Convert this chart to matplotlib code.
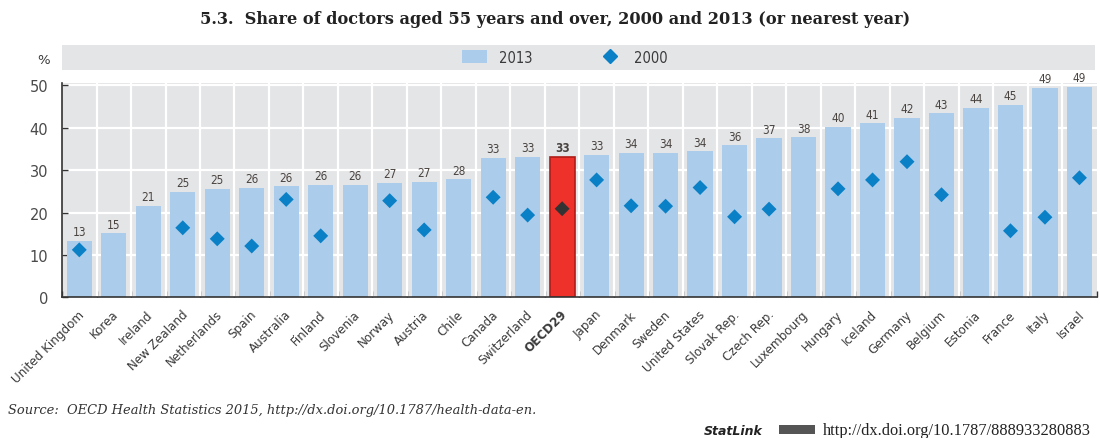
import matplotlib
matplotlib.use("Agg")
import matplotlib.pyplot as plt
from matplotlib.lines import Line2D
from matplotlib.patches import Patch, Rectangle
import numpy as np

# Data (2013 bars, 2000 diamonds; None = no 2000 value)
countries = ["United Kingdom", "Korea", "Ireland", "New Zealand", "Netherlands", "Spain",
             "Australia", "Finland", "Slovenia", "Norway", "Austria", "Chile", "Canada",
             "Switzerland", "OECD29", "Japan", "Denmark", "Sweden", "United States",
             "Slovak Rep.", "Czech Rep.", "Luxembourg", "Hungary", "Iceland", "Germany",
             "Belgium", "Estonia", "France", "Italy", "Israel"]
share_2013 = [13.4, 15.1, 21.6, 24.9, 25.6, 25.9, 26.2, 26.6, 26.6, 27.0, 27.2, 27.9, 32.9,
              33.2, 33.1, 33.6, 34.1, 34.1, 34.5, 35.9, 37.5, 37.8, 40.2, 41.1, 42.4,
              43.4, 44.7, 45.4, 49.4, 49.7]
share_2000 = [11.2, None, None, 16.4, 13.8, 12.1, 23.1, 14.5, None, 22.8, 15.9, None, 23.6,
              19.4, 20.9, 27.7, 21.6, 21.5, 25.9, 19.0, 20.8, None, 25.6, 27.7, 32.0,
              24.2, None, 15.7, 18.9, 28.2]
labels_2013 = [13, 15, 21, 25, 25, 26, 26, 26, 26, 27, 27, 28, 33, 33, 33, 33, 34, 34, 34,
               36, 37, 38, 40, 41, 42, 43, 44, 45, 49, 49]

bar_blue = "#abcdeb"
dot_blue = "#0a80c6"
text_col = "#3a3a3a"
cond = dict(family="DejaVu Sans", stretch="condensed")

fig = plt.figure(figsize=(11, 4.39), dpi=100)
ax = fig.add_axes([0.0564, 0.3205, 0.9406, 0.4875])

x = np.arange(len(countries))
oecd = countries.index("OECD29")
colors = [bar_blue] * len(countries)
colors[oecd] = "#ee312a"
bars = ax.bar(x, share_2013, width=0.73, color=colors, zorder=2)
bars[oecd].set_edgecolor("#b01c16")
bars[oecd].set_linewidth(1.2)

dx = [i for i, v in enumerate(share_2000) if v is not None]
dy = [share_2000[i] for i in dx]
dcol = ["#333333" if i == oecd else dot_blue for i in dx]
ax.scatter(dx, dy, marker="D", s=58, c=dcol, zorder=3, linewidths=0)

for i, (h, lab) in enumerate(zip(share_2013, labels_2013)):
    ax.text(i, h + 0.6, str(lab), ha="center", va="bottom", fontsize=8.5,
            color="#4a4440", fontweight="bold" if i == oecd else "normal", **cond)

ax.set_facecolor("#e4e5e7")
ax.set_xlim(-0.5, len(countries) - 0.5)
ax.set_ylim(0, 50.5)
ax.set_yticks([0, 10, 20, 30, 40, 50])
ax.set_yticklabels(["0", "10", "20", "30", "40", "50"], fontsize=10.5, color="#4a4a4a")
ax.yaxis.grid(True, color="white", linewidth=1.6, zorder=1)
ax.set_xticks(np.arange(-0.5, len(countries), 1.0), minor=False)
ax.set_xticklabels([])
for b in np.arange(0.5, len(countries) - 0.5, 1.0):
    ax.axvline(b, color="white", linewidth=1.6, zorder=1)
ax.set_axisbelow(True)
ax.tick_params(axis="x", direction="in", length=4, width=1, color="#333333")
ax.tick_params(axis="y", direction="in", length=4, width=1, color="#333333", pad=10)
for s in ["top", "right"]:
    ax.spines[s].set_visible(False)
ax.spines["left"].set_color("#333333")
ax.spines["bottom"].set_color("#333333")
ax.spines["left"].set_linewidth(1.2)
ax.spines["bottom"].set_linewidth(1.2)

for i, name in enumerate(countries):
    ax.text(i - 0.05, -2.4, name, rotation=45, ha="right", va="top",
            rotation_mode="anchor", fontsize=9.5, color=text_col,
            fontweight="bold" if i == oecd else "normal", **cond)

# legend band
band = fig.add_axes([0.0564, 0.838, 0.939, 0.058])
band.set_facecolor("#e4e5e7")
band.set_xticks([])
band.set_yticks([])
for s in band.spines.values():
    s.set_visible(False)
handles = [Patch(facecolor=bar_blue, edgecolor="none"),
           Line2D([], [], marker="D", color=dot_blue, linestyle="none", markersize=7)]
band.legend(handles, ["2013", "2000"], loc="center", ncol=2, frameon=False,
            bbox_to_anchor=(0.487, 0.5), handlelength=1.7, handleheight=1.0,
            columnspacing=4.5, handletextpad=0.8, labelcolor=text_col,
            prop=dict(size=10.5, **cond))

fig.text(0.04, 0.855, "%", fontsize=9.5, color=text_col, ha="center")

fig.text(0.505, 0.955, "5.3.  Share of doctors aged 55 years and over, 2000 and 2013 (or nearest year)",
         ha="center", va="center", fontsize=11.6, fontweight="bold", family="DejaVu Serif",
         color="#222222")

fig.text(0.007, 0.065, "Source:  OECD Health Statistics 2015, http://dx.doi.org/10.1787/health-data-en.",
         ha="left", va="center", fontsize=9.4, style="italic", family="DejaVu Serif",
         color="#333333")
fig.text(0.64, 0.018, "StatLink", ha="left", va="center", fontsize=9, style="italic",
         fontweight="bold", family="DejaVu Sans", color="#222222")
fig.patches.append(Rectangle((0.708, 0.008), 0.033, 0.022, transform=fig.transFigure,
                             facecolor="#555555", edgecolor="none"))
fig.text(0.748, 0.018, "http://dx.doi.org/10.1787/888933280883", ha="left", va="center",
         fontsize=11.8, family="Liberation Serif", color="#222222")

fig.savefig("out.png", dpi=100)
